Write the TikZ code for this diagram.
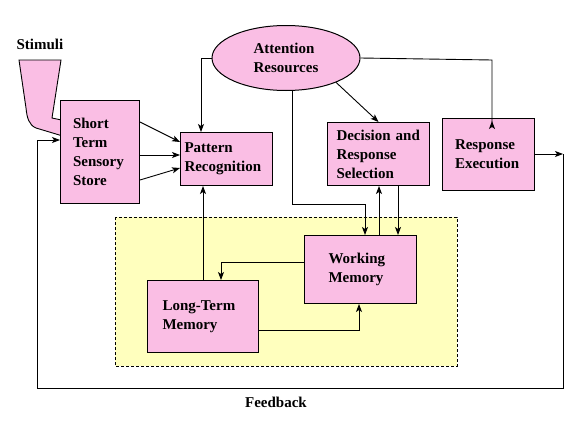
\documentclass[tikz,border=0pt]{standalone}
\usepackage{fontspec}
\setmainfont{Liberation Serif}
\usetikzlibrary{shapes.geometric,arrows.meta}
\definecolor{boxpink}{RGB}{250,190,228}
\definecolor{memyellow}{RGB}{255,255,190}

\begin{document}
\begin{tikzpicture}[x=1pt,y=1pt,yscale=-1,
  lbl/.style={font=\bfseries\fontsize{15pt}{19pt}\selectfont},
  box/.style={lbl,draw,fill=boxpink,line width=1pt,anchor=north west,inner sep=0pt,align=left},
  ln/.style={line width=0.9pt},
  arr/.style={ln,-{Stealth[length=8pt,width=6pt,inset=2pt]}},
  rarr/.style={ln,-{Stealth[length=8pt,width=6pt,inset=2pt,reversed]}}]
\useasboundingbox (0,0) rectangle (575,431);

%Shape: memory area
\draw[fill=memyellow,line width=1pt,dash pattern=on 3pt off 2pt] (115,217) rectangle (457,366);

%Shape: funnel
\draw[fill=boxpink,ln] (19,60) -- (61,60) -- (52,118) -- (66,121) -- (66,137) -- (36,128) .. controls (29,125) and (27,118) .. (26,108) -- cycle;

% Text Node
\node[lbl,anchor=west] (stim) at (13,44) {Stimuli};
\node[box,minimum width=79pt,minimum height=103pt,text width=54pt] (stss) at (60,100) {Short\\Term\\Sensory\\Store};
\node[box,minimum width=92pt,minimum height=53pt,text width=84pt] (pr) at (180,132) {Pattern\\Recognition};
\node[lbl,draw,fill=boxpink,line width=1pt,ellipse,inner sep=0pt,minimum width=148pt,minimum height=65pt,align=left] (att) at (286,58) {Attention\\Resources};
\node[box,minimum width=102pt,minimum height=63pt,text width=84pt] (dec) at (327,122) {Decision and\\Response\\Selection};
\node[box,minimum width=92pt,minimum height=72pt,text width=67pt] (re) at (442,118) {Response\\Execution};
\node[box,minimum width=112pt,minimum height=68pt,text width=64pt] (wm) at (304,235) {Working\\Memory};
\node[box,minimum width=111pt,minimum height=72pt,text width=81pt] (ltm) at (147,280) {Long-Term\\Memory};
\node[lbl] (fbl) at (276,402) {Feedback};
\coordinate (fb) at (563,154);

%Straight Lines
\draw[arr] (stss.east |- 0,122) -- (pr.west |- 0,142);
\draw[arr] (stss.east |- 0,155) -- (pr.west |- 0,155);
\draw[arr] (stss.east |- 0,180) -- (pr.west |- 0,168);
\draw[arr] (att.west) -| (pr.north -| 201,0);
\draw[arr] (att.-26) -- (dec.north);
\draw[rarr] (att.east) -- (492,60) -- (re.north -| 492,0) -- (492,129);
\draw[arr] (att.south -| 292,0) -- (292,204) -| (wm.north -| 365,0);
\draw[arr] (wm.north -| 379,0) -- (dec.south -| 379,0);
\draw[arr] (dec.south -| 398,0) -- (wm.north -| 398,0);
\draw[arr] (wm.west |- 0,262) -| (ltm.north -| 221,0);
\draw[arr] (ltm.east |- 0,330) -| (wm.south -| 359,0);
\draw[arr] (ltm.north -| 203,0) -- (pr.south -| 203,0);

%Feedback loop
\draw[arr] (re.east |- 0,154) -- (fb);
\draw[arr] (fb) -- (563,388) -| (37,140) -- (stss.west |- 0,140);

\end{tikzpicture}
\end{document}
